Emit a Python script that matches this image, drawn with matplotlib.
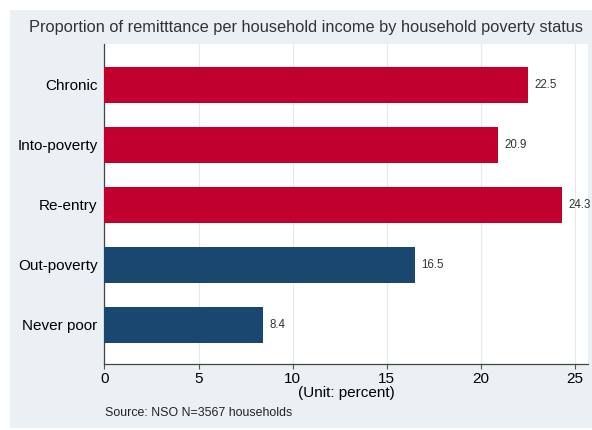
import matplotlib.pyplot as plt
from matplotlib.patches import Rectangle

plt.rcParams["font.family"] = ["Liberation Sans", "DejaVu Sans"]

categories = ["Chronic", "Into-poverty", "Re-entry", "Out-poverty", "Never poor"]
values = [22.5, 20.9, 24.3, 16.5, 8.4]
poor_flag = [True, True, True, False, False]

RED = "#c2002f"
NAVY = "#1a476f"
PANEL = "#eaf0f3"

fig = plt.figure(figsize=(5.92, 4.30), dpi=100)
fig.patch.set_facecolor("white")
# light graph region behind the plot area
fig.patches.append(Rectangle((0.017, 0.005), 0.983, 0.972, transform=fig.transFigure,
                             facecolor=PANEL, edgecolor="none", zorder=-10))

ax = fig.add_axes([0.1765, 0.1535, 0.8167, 0.7442])
ax.set_facecolor("white")

ypos = list(range(len(categories)))
colors = [RED if p else NAVY for p in poor_flag]
ax.barh(ypos, values, height=0.6, color=colors, zorder=3)
for y, v in zip(ypos, values):
    ax.text(v + 0.35, y, f"{v:.1f}", va="center", ha="left", fontsize=8.3, color="#333333")

ax.set_yticks(ypos)
ax.set_yticklabels(categories, fontsize=11)
ax.set_ylim(len(categories) - 1 + 0.655, -0.68)
ax.set_xlim(0, 25.69)
ax.set_xticks([0, 5, 10, 15, 20, 25])
ax.tick_params(axis="x", labelsize=11, length=3.5, color="#555555", pad=2)
ax.tick_params(axis="y", length=0, pad=5)
ax.grid(axis="x", color="#e6e9eb", linewidth=0.8, zorder=0)

for side in ["top", "right"]:
    ax.spines[side].set_visible(False)
for side in ["left", "bottom"]:
    ax.spines[side].set_color("#444444")
    ax.spines[side].set_linewidth(0.9)

ax.set_xlabel("(Unit: percent)", fontsize=11, labelpad=0)

fig.text(0.049, 0.935, "Proportion of remitttance per household income by household poverty status",
         fontsize=11.8, color="#333333", va="center", ha="left")
fig.text(0.178, 0.04, "Source: NSO N=3567 households", fontsize=8.9, color="#222222",
         va="center", ha="left")

fig.savefig("out.png", dpi=100, facecolor=fig.get_facecolor())
